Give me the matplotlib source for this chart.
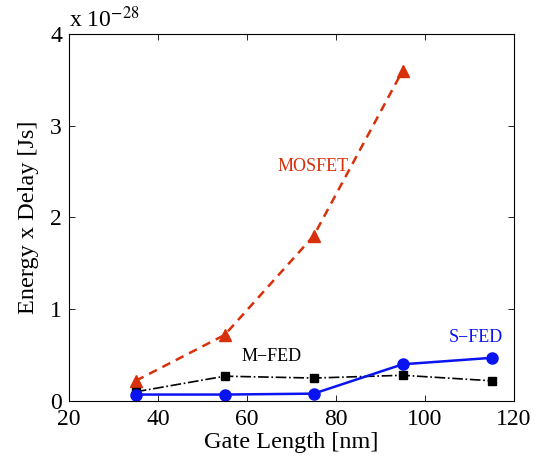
import matplotlib
matplotlib.use("Agg")
import matplotlib.pyplot as plt

plt.rcParams['font.family'] = ['Liberation Serif', 'DejaVu Serif']
plt.rcParams['mathtext.fontset'] = 'stix'

# gate length [nm] and energy-delay product in units of 1e-28 Js
gate_length = [35, 55, 75, 95, 115]
mosfet_x = [35, 55, 75, 95]
mosfet = [0.22, 0.72, 1.80, 3.60]
mfed = [0.10, 0.27, 0.25, 0.28, 0.22]
sfed = [0.07, 0.07, 0.08, 0.40, 0.47]

red = '#d8300a'
blue = '#0a14f0'

fig = plt.figure(figsize=(5.37, 4.58), dpi=100)
ax = fig.add_axes([0.1285, 0.1245, 0.8285, 0.8015])

ax.plot(mosfet_x, mosfet, '--', color=red, lw=1.8, marker='^', ms=8, dashes=(3.5, 2.5))
ax.plot(gate_length, mfed, '-.', color='black', lw=1.2, marker='s', ms=6)
ax.plot(gate_length, sfed, '-', color=blue, lw=1.8, marker='o', ms=8)

ax.text(74.8, 2.55, 'MOSFET', color=red, fontsize=13, ha='center', va='center')
ax.text(65.5, 0.49, 'M\u2212FED', color='black', fontsize=13, ha='center', va='center')
ax.text(111.5, 0.69, 'S\u2212FED', color=blue, fontsize=13, ha='center', va='center')

ax.set_xlim(20, 120)
ax.set_ylim(0, 4)
ax.set_xticks([20, 40, 60, 80, 100, 120])
ax.set_yticks([0, 1, 2, 3, 4])
ax.tick_params(direction='in', labelsize=17, length=4, top=True, right=True, width=0.6)
ax.tick_params(axis='x', pad=6)
ax.tick_params(axis='y', pad=5)
for s in ax.spines.values():
    s.set_linewidth(0.8)

ax.set_xlabel('Gate Length [nm]', fontsize=17.5, labelpad=1)
ax.set_ylabel('Energy x Delay [Js]', fontsize=17.5, labelpad=8)
ax.text(0.0, 1.005, r'x 10$^{-28}$', transform=ax.transAxes, fontsize=17, ha='left', va='bottom')

fig.savefig('out.png', dpi=100)
